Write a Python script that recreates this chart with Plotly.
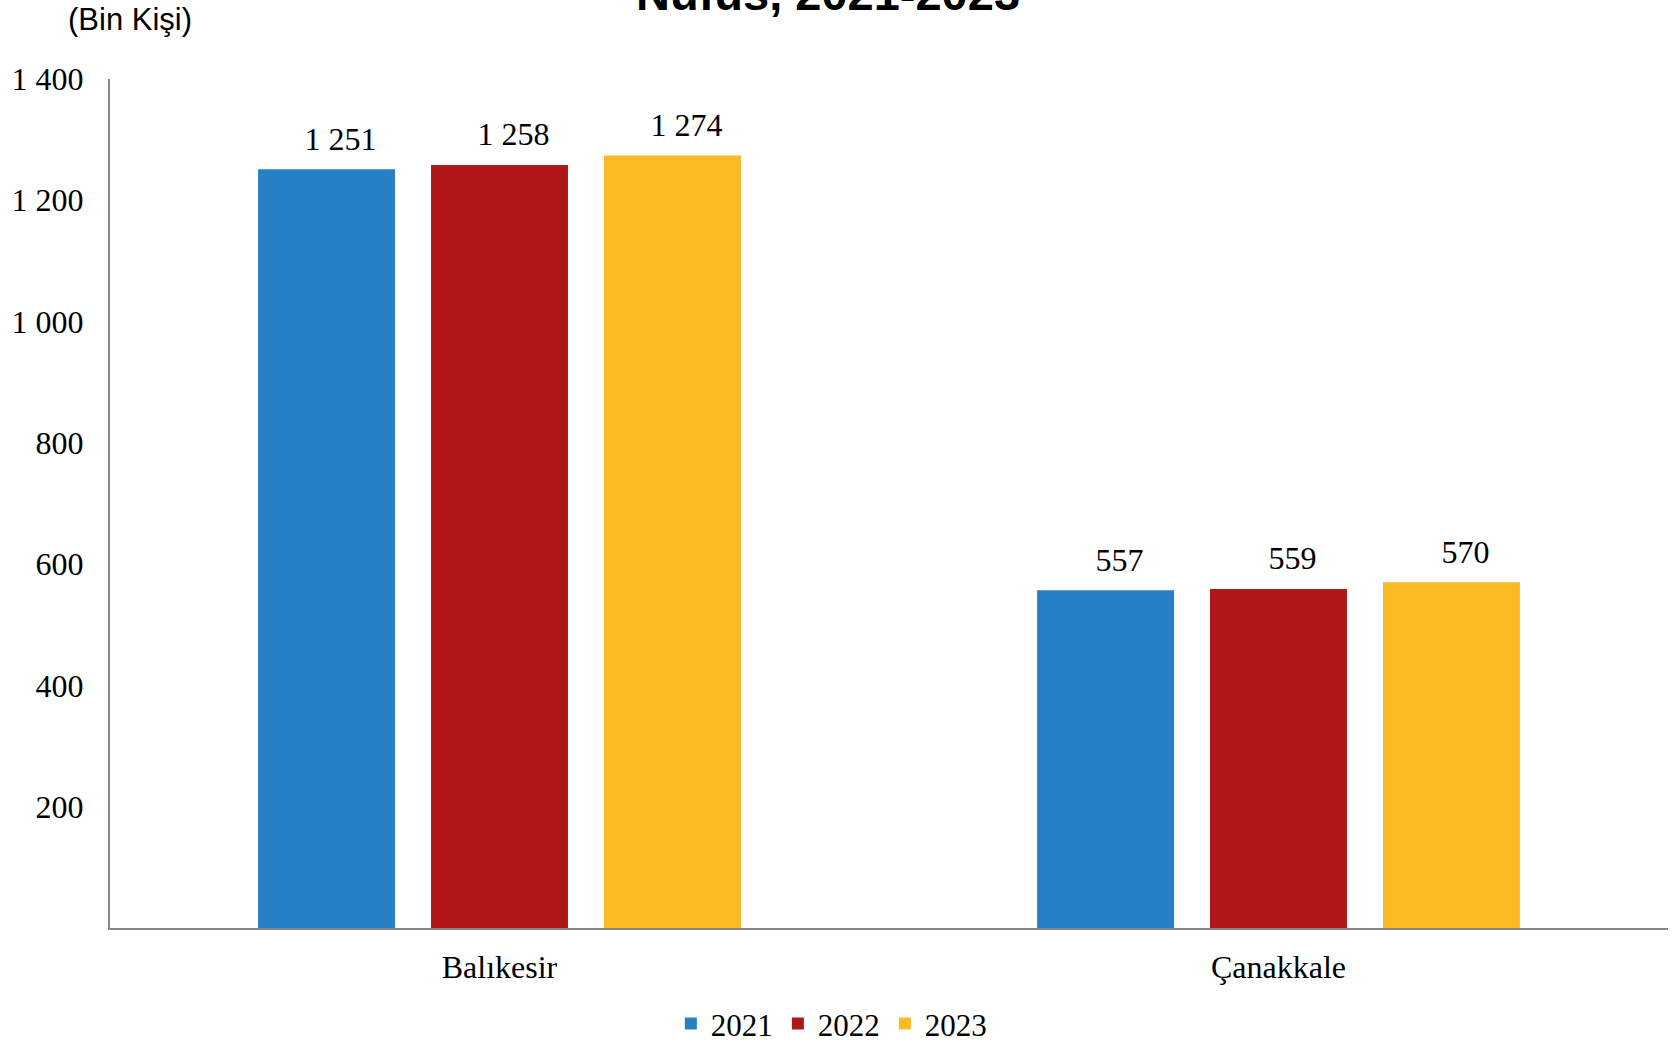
import plotly.graph_objects as go

categories = ["Balıkesir", "Çanakkale"]
years = ["2021", "2022", "2023"]
values_2021 = [1251, 557]
values_2022 = [1258, 559]
values_2023 = [1274, 570]
colors = ["#2680C6", "#AF1718", "#FBBA21"]
y_tickvals = [200, 400, 600, 800, 1000, 1200, 1400]
y_ticktext = ["200", "400", "600", "800", "1 000", "1 200", "1 400"]


def fmt(v):
    return f"{v:,}".replace(",", " ")


LEAD = "\u00a0" * 5
TAIL = "<sub><span style='font-size:48px'>\u00a0</span></sub>"

fig = go.Figure()
for name, vals, col in zip(years, [values_2021, values_2022, values_2023], colors):
    fig.add_trace(go.Bar(
        name=name, x=categories, y=vals, marker_color=col,
        marker_line_width=0,
        text=[LEAD + fmt(v) + TAIL for v in vals],
        textposition="outside", cliponaxis=False,
        textfont=dict(family="Liberation Serif", size=32, color="black"),
    ))

fig.update_layout(
    width=1673, height=1043,
    barmode="group", bargap=0.334, bargroupgap=0.208,
    plot_bgcolor="white", paper_bgcolor="white",
    margin=dict(l=110, r=5, t=79, b=115, autoexpand=False),
    font=dict(family="Liberation Serif", size=32, color="black"),
    legend=dict(orientation="h", x=0.463, xanchor="center", y=-0.113, yanchor="middle",
                font=dict(family="Liberation Serif", size=31), itemwidth=30,
                traceorder="normal"),
    showlegend=True,
)
fig.update_yaxes(range=[0, 1400], tickvals=y_tickvals, ticktext=y_ticktext,
                 showgrid=False, showline=True, linecolor="#898989", linewidth=2,
                 ticks="", ticklabelstandoff=18, zeroline=False,
                 tickfont=dict(family="Liberation Serif", size=32))
fig.update_xaxes(showline=True, linecolor="#898989", linewidth=2, ticks="",
                 ticklabelstandoff=10,
                 tickfont=dict(family="Liberation Serif", size=32))

fig.add_annotation(text="(Bin Kişi)", xref="paper", yref="paper",
                   x=-0.0284, y=1.047, xanchor="left", yanchor="bottom",
                   showarrow=False,
                   font=dict(family="Liberation Sans", size=31, color="black"))
fig.add_annotation(text="<b>Nüfus, 2021-2023</b>", xref="paper", yref="paper",
                   x=0.461, y=1.067, xanchor="center", yanchor="bottom",
                   showarrow=False,
                   font=dict(family="Liberation Sans", size=47, color="black"))

fig.write_html("out.html", config={"displayModeBar": False},
               post_script="document.body.style.margin='0px';")
